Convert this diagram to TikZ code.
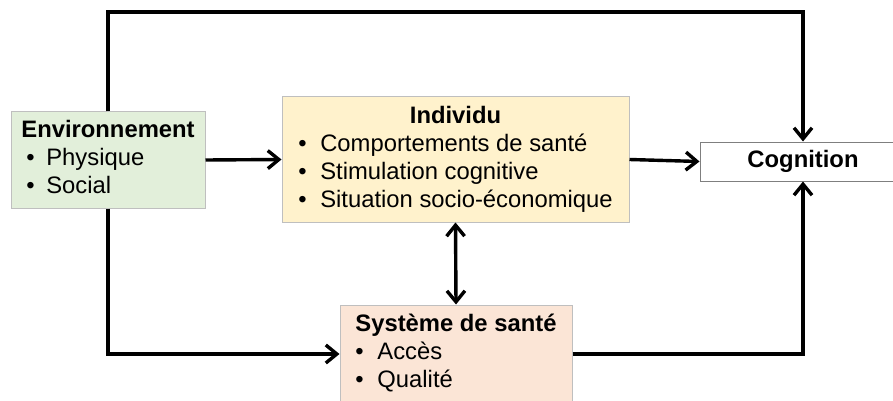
\documentclass[tikz,border=0pt]{standalone}
\usepackage{fontspec}
\setmainfont{Liberation Sans}
\usetikzlibrary{
    arrows.meta       % For the open arrow tips (Straight Barb)
}

\definecolor{env_green}{HTML}{E2EFDA}
\definecolor{indiv_yellow}{HTML}{FFF2CC}
\definecolor{sante_pink}{HTML}{FBE5D6}
\definecolor{border_gray}{HTML}{BFBFBF}
\definecolor{cog_gray}{HTML}{7F7F7F}

\begin{document}
\begin{tikzpicture}[
    % One unit is one pixel of the picture, y runs downwards
    x=0.5pt, y=-0.5pt,
    % Style for the coloured boxes
    box_style/.style={
        draw=border_gray,
        line width=0.5pt,
        inner sep=0pt,
        font=\fontsize{11.9}{14}\selectfont
    },
    % Style for the thick black connectors
    flow_line/.style={
        line width=1.7pt
    },
    % Style for arrowheads
    arrow_tip/.style={
        -{Straight Barb[length=5.5pt, width=9pt]}
    },
    both_tips/.style={
        {Straight Barb[length=5.5pt, width=9pt]}-{Straight Barb[length=5.5pt, width=9pt]}
    }
]
    \clip (0,0) rectangle (893,401);

    % 1. The four boxes.
    \node[box_style, fill=env_green, minimum width=97pt, minimum height=48pt] (environnement) at (108,160) {%
        \begin{tabular}{@{}p{12.5pt}@{}l@{}}
            \multicolumn{2}{@{}c@{}}{\textbf{Environnement}}\\
            \hspace{2.5pt}\textbullet & Physique\\
            \hspace{2.5pt}\textbullet & Social
        \end{tabular}};
    \node[box_style, fill=indiv_yellow, minimum width=173.5pt, minimum height=62.5pt] (individu) at (455.5,159.5) {%
        \begin{tabular}{@{}p{11pt}@{}l@{}}
            \multicolumn{2}{@{}c@{}}{\textbf{Individu}}\\
            \textbullet & Comportements de santé\\
            \textbullet & Stimulation cognitive\\
            \textbullet & Situation socio-économique
        \end{tabular}};
    \node[box_style, fill=sante_pink, minimum width=116pt, minimum height=49pt] (systeme) at (456,354) {%
        \begin{tabular}{@{}p{11pt}@{}l@{}}
            \multicolumn{2}{@{}c@{}}{\textbf{Système de santé}}\\
            \textbullet & Accès\\
            \textbullet & Qualité
        \end{tabular}};
    \node[box_style, draw=cog_gray, fill=white, minimum width=103pt, minimum height=19.5pt] (cognition) at (803,161.5) {\textbf{Cognition}};

    % 2. Corners of the outer loop.
    \coordinate (top_left) at (108,12);

    % 3. The connectors.
    \draw[flow_line, arrow_tip] (environnement.east) -- (individu.west);
    \draw[flow_line, arrow_tip] (individu.east) -- (cognition.west);
    \draw[flow_line, both_tips] (individu.south) -- (systeme.north);
    \draw[flow_line, arrow_tip] (environnement.north) -- (top_left) -| (cognition.north);
    \draw[flow_line, arrow_tip] (environnement.south) |- (systeme.west);
    \draw[flow_line, arrow_tip] (systeme.east) -| (cognition.south);

\end{tikzpicture}
\end{document}
